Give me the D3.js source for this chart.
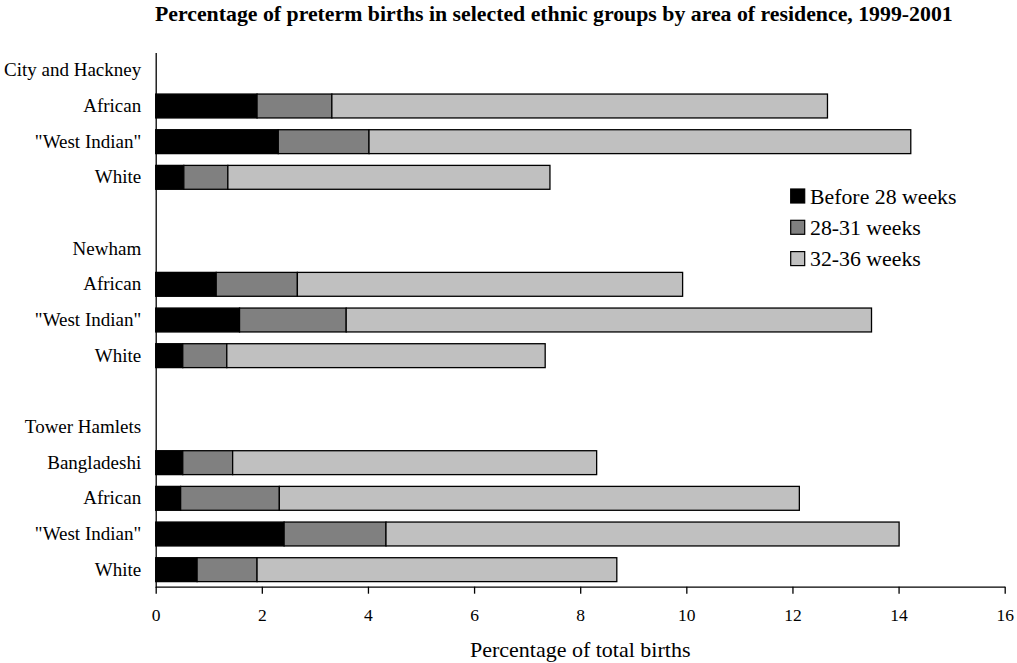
<!DOCTYPE html>
<html>
<head>
<meta charset="utf-8">
<script src="https://cdn.jsdelivr.net/npm/d3@7"></script>
<style>
  html, body { margin: 0; padding: 0; background: #fff; }
  svg { display: block; }
  text { font-family: "Liberation Serif", "Times New Roman", serif; fill: #000; }
</style>
</head>
<body>
<svg id="chart" width="1017" height="663"></svg>
<script>
const areas = ["City and Hackney", "Newham", "Tower Hamlets"];
const ethnicGroups = [
  ["African", "\"West Indian\"", "White"],
  ["African", "\"West Indian\"", "White"],
  ["Bangladeshi", "African", "\"West Indian\"", "White"]
];
const before28 = [[1.91, 2.31, 0.53], [1.14, 1.58, 0.51], [0.51, 0.47, 2.42, 0.78]];
const weeks28to31 = [[1.41, 1.71, 0.83], [1.53, 2.01, 0.83], [0.94, 1.86, 1.92, 1.13]];
const weeks32to36 = [[9.34, 10.21, 6.07], [7.26, 9.90, 6.00], [6.86, 9.80, 9.67, 6.78]];
const seriesNames = ["Before 28 weeks", "28-31 weeks", "32-36 weeks"];
const seriesKeys = ["b28", "w2831", "w3236"];
const seriesColors = ["#000000", "#808080", "#c0c0c0"];
const xTicks = [0, 2, 4, 6, 8, 10, 12, 14, 16];
const title = "Percentage of preterm births in selected ethnic groups by area of residence, 1999-2001";
const xTitle = "Percentage of total births";

// Build row list (area header rows, group rows, spacer rows)
const rows = [];
areas.forEach((a, i) => {
  if (i > 0) rows.push({ key: "spacer" + i, label: "", bar: false });
  rows.push({ key: "hdr" + i, label: a, bar: false });
  ethnicGroups[i].forEach((g, j) => {
    rows.push({ key: a + "|" + g, label: g, bar: true,
      b28: before28[i][j], w2831: weeks28to31[i][j], w3236: weeks32to36[i][j] });
  });
});
const barRows = rows.filter(r => r.bar);

const svg = d3.select("#chart");
const margin = { left: 155.7, right: 1004.7, top: 52.5, bottom: 587.5 };

const x = d3.scaleLinear().domain([0, 16]).range([margin.left, margin.right]);
const y = d3.scaleBand().domain(rows.map(r => r.key))
  .range([margin.top, margin.bottom]).paddingInner(0.33).paddingOuter(0.165);

const stacked = d3.stack().keys(seriesKeys)(barRows);

svg.append("g").selectAll("g")
  .data(stacked).join("g")
  .attr("fill", (d, i) => seriesColors[i])
  .selectAll("rect")
  .data(d => d).join("rect")
  .attr("x", d => x(d[0]))
  .attr("y", d => y(d.data.key))
  .attr("width", d => x(d[1]) - x(d[0]))
  .attr("height", y.bandwidth())
  .attr("stroke", "#000")
  .attr("stroke-width", 1.3);

// X axis
const xAxis = svg.append("g")
  .attr("transform", `translate(0,${margin.bottom - 0.8})`)
  .call(d3.axisBottom(x).tickValues(xTicks).tickSize(7).tickSizeOuter(0).tickPadding(15).tickFormat(d3.format("d")));
xAxis.select(".domain").attr("stroke", "#000").attr("stroke-width", 1.3);
xAxis.selectAll(".tick line").attr("stroke", "#000").attr("stroke-width", 1.3);
xAxis.selectAll("text").attr("font-size", 17.5).attr("font-family", "Liberation Serif, serif");

// Y axis
const labelMap = new Map(rows.map(r => [r.key, r.label]));
const yAxis = svg.append("g")
  .attr("transform", `translate(${margin.left},0)`)
  .call(d3.axisLeft(y).tickSize(0).tickSizeOuter(0).tickPadding(14.5).tickFormat(k => labelMap.get(k)));
yAxis.select(".domain").attr("stroke", "#000").attr("stroke-width", 1.3);
yAxis.selectAll("text").attr("font-size", 19).attr("font-family", "Liberation Serif, serif");

// Title
svg.append("text")
  .attr("x", 155).attr("y", 21)
  .attr("font-size", 21.8).attr("font-weight", "bold")
  .text(title);

// X title
svg.append("text")
  .attr("x", (margin.left + margin.right) / 2).attr("y", 657)
  .attr("text-anchor", "middle")
  .attr("font-size", 22)
  .text(xTitle);

// Legend
const legend = svg.append("g").attr("transform", "translate(790.7,189)");
const lg = legend.selectAll("g").data(seriesNames).join("g")
  .attr("transform", (d, i) => `translate(0,${i * 31.3})`);
lg.append("rect").attr("width", 14).attr("height", 14)
  .attr("fill", (d, i) => seriesColors[i]).attr("stroke", "#000").attr("stroke-width", 1.2);
lg.append("text").attr("x", 19.3).attr("y", 14.5).attr("font-size", 21.8).text(d => d);
</script>
</body>
</html>
